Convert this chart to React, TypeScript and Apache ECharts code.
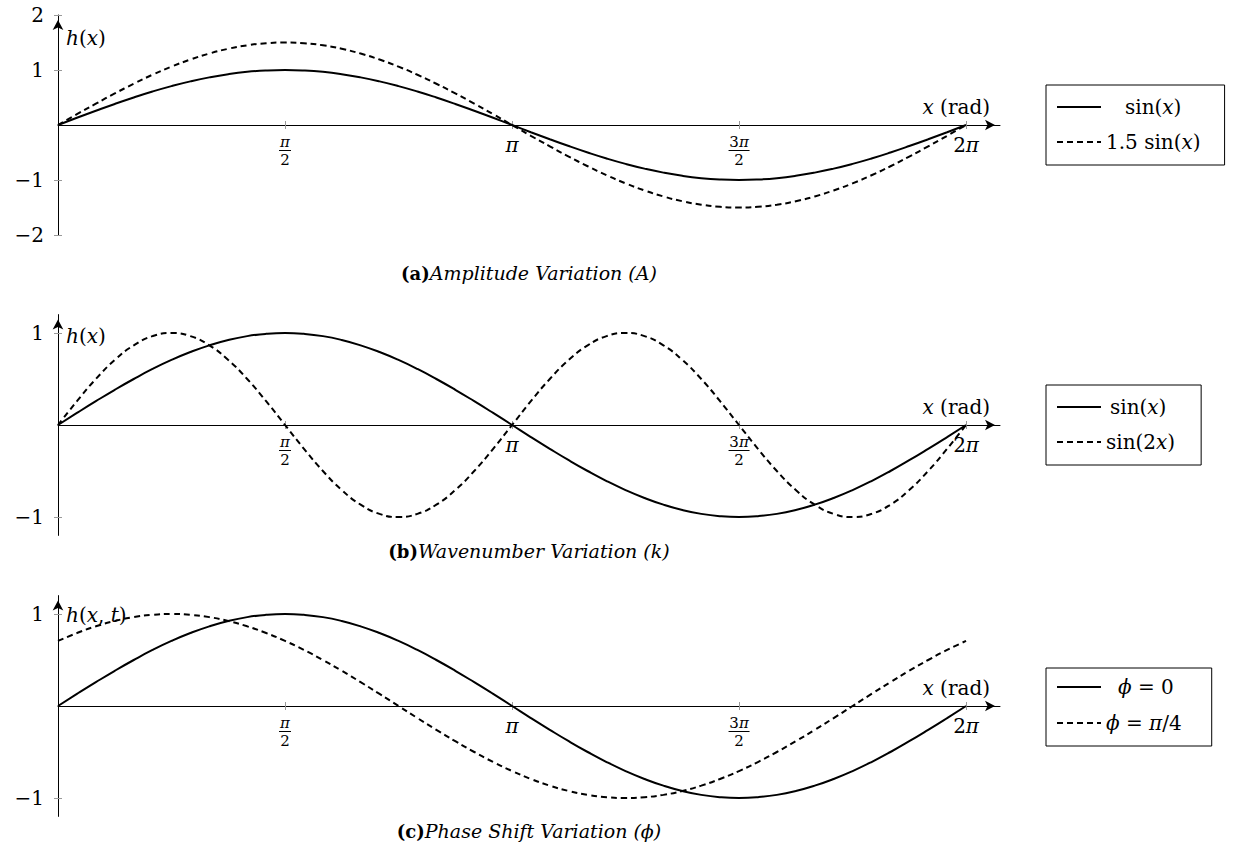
import React, { useEffect, useRef } from 'react';
import * as echarts from 'echarts';

// x positions (radians), step pi/24
const xRad = [
  0, 0.131, 0.262, 0.393, 0.524, 0.654, 0.785, 0.916, 1.047, 1.178, 1.309, 1.44, 1.571,
  1.702, 1.833, 1.963, 2.094, 2.225, 2.356, 2.487, 2.618, 2.749, 2.88, 3.011, 3.142,
  3.272, 3.403, 3.534, 3.665, 3.796, 3.927, 4.058, 4.189, 4.32, 4.451, 4.581, 4.712,
  4.843, 4.974, 5.105, 5.236, 5.367, 5.498, 5.629, 5.76, 5.89, 6.021, 6.152, 6.283,
];

const sinX = [
  0, 0.131, 0.259, 0.383, 0.5, 0.609, 0.707, 0.793, 0.866, 0.924, 0.966, 0.991, 1,
  0.991, 0.966, 0.924, 0.866, 0.793, 0.707, 0.609, 0.5, 0.383, 0.259, 0.131, 0,
  -0.131, -0.259, -0.383, -0.5, -0.609, -0.707, -0.793, -0.866, -0.924, -0.966, -0.991, -1,
  -0.991, -0.966, -0.924, -0.866, -0.793, -0.707, -0.609, -0.5, -0.383, -0.259, -0.131, 0,
];

const sin15X = [
  0, 0.197, 0.388, 0.574, 0.75, 0.914, 1.061, 1.19, 1.299, 1.386, 1.449, 1.487, 1.5,
  1.487, 1.449, 1.386, 1.299, 1.19, 1.061, 0.914, 0.75, 0.574, 0.388, 0.197, 0,
  -0.197, -0.388, -0.574, -0.75, -0.914, -1.061, -1.19, -1.299, -1.386, -1.449, -1.487, -1.5,
  -1.487, -1.449, -1.386, -1.299, -1.19, -1.061, -0.914, -0.75, -0.574, -0.388, -0.197, 0,
];

const sin2X = [
  0, 0.259, 0.5, 0.707, 0.866, 0.966, 1, 0.966, 0.866, 0.707, 0.5, 0.259, 0,
  -0.259, -0.5, -0.707, -0.866, -0.966, -1, -0.966, -0.866, -0.707, -0.5, -0.259, 0,
  0.259, 0.5, 0.707, 0.866, 0.966, 1, 0.966, 0.866, 0.707, 0.5, 0.259, 0,
  -0.259, -0.5, -0.707, -0.866, -0.966, -1, -0.966, -0.866, -0.707, -0.5, -0.259, 0,
];

const sinPhase = [
  0.707, 0.793, 0.866, 0.924, 0.966, 0.991, 1, 0.991, 0.966, 0.924, 0.866, 0.793, 0.707,
  0.609, 0.5, 0.383, 0.259, 0.131, 0, -0.131, -0.259, -0.383, -0.5, -0.609, -0.707,
  -0.793, -0.866, -0.924, -0.966, -0.991, -1, -0.991, -0.966, -0.924, -0.866, -0.793, -0.707,
  -0.609, -0.5, -0.383, -0.259, -0.131, 0, 0.131, 0.259, 0.383, 0.5, 0.609, 0.707,
];

const xTicks = [1.5708, 3.1416, 4.7124, 6.2832];
const xTickLabels = [
  '{fni|π}\n{fb|\u00a0}\n{fn|2}',
  '{bigi|π}',
  '{fn|3}{fni|π}\n{fb2|\u00a0}\n{fn|2}',
  '{big|2}{bigi|π}',
];
const yTicksA = [-2, -1, 1, 2];
const yTicksB = [-1, 1];
const yTicksC = [-1, 1];

const seriesNames = ['A1', 'A2', 'B1', 'B2', 'C1', 'C2'];
const legendLabels: Record<string, string> = {
  A1: '{s1|\u00a0}{r|sin(}{i|x}{r|)}',
  A2: '{r|1.5 sin(}{i|x}{r|)}',
  B1: '{s2|\u00a0}{r|sin(}{i|x}{r|)}',
  B2: '{r|sin(2}{i|x}{r|)}',
  C1: '{s3|\u00a0}{i|ϕ}{r| = 0}',
  C2: '{i|ϕ}{r| = }{i|π}{r|/4}',
};
const captions = [
  '{b|(a)}{it|Amplitude Variation (A)}',
  '{b|(b)}{it|Wavenumber Variation (k)}',
  '{b|(c)}{it|Phase Shift Variation (ϕ)}',
];

const FONT = 'DejaVu Serif';
const X_MAX = 6.518;

const App: React.FC = () => {
  const ref = useRef<HTMLDivElement>(null);
  useEffect(() => {
    if (!ref.current) return;
    const chart = echarts.init(ref.current, undefined, { renderer: 'svg' });

    const richBase = {
      r: { fontFamily: FONT, fontSize: 20, color: '#000' },
      i: { fontFamily: FONT, fontSize: 20, color: '#000', fontStyle: 'italic' },
    };
    const tickRich = {
      fn: { fontFamily: FONT, fontSize: 15, lineHeight: 15, color: '#000' },
      fni: { fontFamily: FONT, fontSize: 15, lineHeight: 15, color: '#000', fontStyle: 'italic' },
      fb: { width: 12, height: 1, lineHeight: 3, fontSize: 2, backgroundColor: '#000' },
      fb2: { width: 21, height: 1, lineHeight: 3, fontSize: 2, backgroundColor: '#000' },
      big: { fontFamily: FONT, fontSize: 20, lineHeight: 22, color: '#000' },
      bigi: { fontFamily: FONT, fontSize: 20, lineHeight: 22, color: '#000', fontStyle: 'italic' },
    };

    const layouts = [
      { top: 15, height: 220, yMin: -2, yMax: 2, yTicks: yTicksA, gap: -13, yName: '{i|h}{r|(}{i|x}{r|)}' },
      { top: 314.6, height: 220.8, yMin: -1.2, yMax: 1.2, yTicks: yTicksB, gap: -11, yName: '{i|h}{r|(}{i|x}{r|)}' },
      { top: 595.6, height: 220.8, yMin: -1.2, yMax: 1.2, yTicks: yTicksC, gap: -9, yName: '{i|h}{r|(}{i|x}{r|, }{i|t}{r|)}' },
    ];

    const grids: any[] = [];
    const xAxes: any[] = [];
    const yAxes: any[] = [];
    layouts.forEach((L, g) => {
      grids.push({ left: 58, width: 942, top: L.top, height: L.height, containLabel: false });
      const zeroOffset = -(L.height * (0 - L.yMin)) / (L.yMax - L.yMin);
      xAxes.push({
        type: 'value', gridIndex: g, min: 0, max: X_MAX, position: 'bottom', offset: zeroOffset,
        axisLine: { show: true, onZero: false, symbol: ['none', 'arrow'], symbolSize: [8, 10], symbolOffset: [0, -5], lineStyle: { color: '#000', width: 1 } },
        axisTick: { show: true, inside: false, length: 4, customValues: xTicks, lineStyle: { color: '#999', width: 1 } },
        axisLabel: {
          show: true, customValues: xTicks, margin: 9, rich: tickRich,
          formatter: (v: number) => {
            const k = Math.round(v / 1.5708) - 1;
            return xTickLabels[k] ?? '';
          },
        },
        splitLine: { show: false },
        name: '{i|x}{r| (rad)}', nameLocation: 'end', nameGap: -10,
        nameTextStyle: { align: 'right', verticalAlign: 'bottom', padding: [0, 0, 8, 0], rich: richBase },
      });
      xAxes.push({
        type: 'value', gridIndex: g, min: 0, max: X_MAX, position: 'bottom', offset: zeroOffset,
        axisLine: { show: false, onZero: false },
        axisTick: { show: true, inside: true, length: 4, customValues: xTicks, lineStyle: { color: '#999', width: 1 } },
        axisLabel: { show: false },
        splitLine: { show: false },
      });
      yAxes.push({
        type: 'value', gridIndex: g, min: L.yMin, max: L.yMax, position: 'left',
        axisLine: { show: true, onZero: false, symbol: ['none', 'arrow'], symbolSize: [8, 10], symbolOffset: [0, -5], lineStyle: { color: '#000', width: 1 } },
        axisTick: { show: true, inside: false, length: 4, customValues: L.yTicks, lineStyle: { color: '#999', width: 1 } },
        axisLabel: {
          show: true, customValues: L.yTicks, margin: 14, fontFamily: FONT, fontSize: 20, color: '#000',
          formatter: (v: number) => (v < 0 ? '\u2212' + Math.abs(v) : String(v)),
        },
        splitLine: { show: false },
        name: L.yName, nameLocation: 'end', nameGap: L.gap,
        nameTextStyle: { align: 'left', verticalAlign: 'top', padding: [0, 0, 0, 8], rich: richBase },
      });
      yAxes.push({
        type: 'value', gridIndex: g, min: L.yMin, max: L.yMax, position: 'left',
        axisLine: { show: false, onZero: false },
        axisTick: { show: true, inside: true, length: 4, customValues: L.yTicks, lineStyle: { color: '#999', width: 1 } },
        axisLabel: { show: false },
        splitLine: { show: false },
      });
    });

    const seriesData = [sinX, sin15X, sinX, sin2X, sinX, sinPhase];
    const series = seriesData.map((vals, idx) => {
      const g = Math.floor(idx / 2);
      const dashed = idx % 2 === 1;
      return {
        type: 'line', name: seriesNames[idx], xAxisIndex: g * 2, yAxisIndex: g * 2,
        data: xRad.map((x, i) => [x, vals[i]]),
        symbol: 'none', showSymbol: false, smooth: true,
        lineStyle: { color: '#000', width: 2, type: dashed ? [6, 4] : 'solid' },
        itemStyle: { color: '#000' },
        z: 3,
      };
    });

    const legendRich = {
      ...richBase,
      s1: { width: 19 },
      s2: { width: 4 },
      s3: { width: 12 },
    };
    const legendBase = {
      orient: 'vertical', left: 1046, selectedMode: false,
      itemWidth: 44, itemHeight: 14, itemGap: 15,
      borderColor: '#000', borderWidth: 1, borderRadius: 0,
      itemStyle: { opacity: 0 },
      formatter: (n: string) => legendLabels[n] ?? n,
      textStyle: { rich: legendRich, fontFamily: FONT, fontSize: 20 },
    };
    const legends = [
      { ...legendBase, top: 85, padding: [12, 24, 13, 10], data: ['A1', 'A2'] },
      { ...legendBase, top: 385, padding: [12, 26, 13, 10], data: ['B1', 'B2'] },
      { ...legendBase, top: 668, padding: [9, 30, 13, 10], itemGap: 16, data: ['C1', 'C2'] },
    ];

    const captionY = [273, 551, 831];
    const graphic = captions.map((c, k) => ({
      type: 'text', x: 529, y: captionY[k],
      style: {
        text: c, align: 'center', verticalAlign: 'middle',
        rich: {
          b: { fontFamily: FONT, fontSize: 18, fontWeight: 'bold', fill: '#000' },
          it: { fontFamily: FONT, fontSize: 19, fontStyle: 'italic', fill: '#000' },
        },
      },
    }));

    chart.setOption({
      animation: false,
      backgroundColor: '#fff',
      grid: grids,
      xAxis: xAxes,
      yAxis: yAxes,
      series,
      legend: legends,
      graphic,
    });
    return () => chart.dispose();
  }, []);
  return <div ref={ref} style={{ position: 'fixed', left: 0, top: 0, width: 1235, height: 847 }} />;
};

export default App;
